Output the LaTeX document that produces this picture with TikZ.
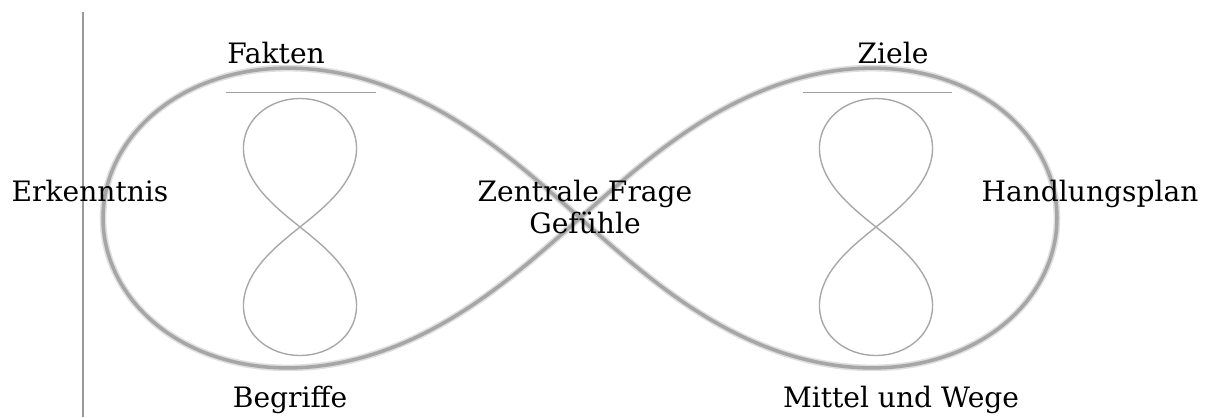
\documentclass[tikz,border=0pt]{standalone}
\usepackage{fontspec}
\setmainfont{DejaVu Serif}

\tikzset{
  bigglow/.style={line width=3.8pt, draw=gray!25, line join=round},
  bigeight/.style={line width=2.0pt, draw=gray!70, line join=round},
  smalleight/.style={line width=0.8pt, draw=gray!68},
  bar/.style={line width=0.5pt, draw=gray!75},
  word/.style={font=\fontsize{16}{19}\selectfont, anchor=base, inner sep=0pt},
}

\begin{document}
\begin{tikzpicture}[x=0.02cm, y=-0.02cm]
  \useasboundingbox (0,0) rectangle (1208,417);

  % Vertical line
  \draw[line width=1.6pt, gray!80] (83,12) -- (83,417);

  % Large figure eight
  \begin{scope}[shift={(580,218)}]
    \draw[bigglow] plot[domain=0:360, samples=241, smooth, variable=\t]
      ({477*cos(\t)/(1+sin(\t)^2)}, {424*sin(\t)*cos(\t)/(1+sin(\t)^2)});
    \draw[bigeight] plot[domain=0:360, samples=241, smooth, variable=\t]
      ({477*cos(\t)/(1+sin(\t)^2)}, {424*sin(\t)*cos(\t)/(1+sin(\t)^2)});
  \end{scope}

  % Small figure eights
  \foreach \cx in {300,876} {
    \begin{scope}[shift={(\cx,227)}]
      \draw[smalleight] plot[domain=0:360, samples=181, smooth, variable=\t]
        ({160*sin(\t)*cos(\t)/(1+sin(\t)^2)}, {128.5*cos(\t)/(1+sin(\t)^2)});
    \end{scope}
  }

  % Bars above the small eights
  \draw[bar] (226,92) -- (376,92);
  \draw[bar] (803,92) -- (952,92);

  % Labels
  \node[word] (fakten) at (276,63) {Fakten};
  \node[word] (ziele) at (893,63) {Ziele};
  \node[word] (erkenntnis) at (90,201) {Erkenntnis};
  \node[word] (frage) at (585,201) {Zentrale Frage};
  \node[word] (gefuehle) at (585,233) {Gefühle};
  \node[word] (plan) at (1090,201) {Handlungsplan};
  \node[word] (begriffe) at (290,407) {Begriffe};
  \node[word] (mittel) at (901,407) {Mittel und Wege};

\end{tikzpicture}
\end{document}
